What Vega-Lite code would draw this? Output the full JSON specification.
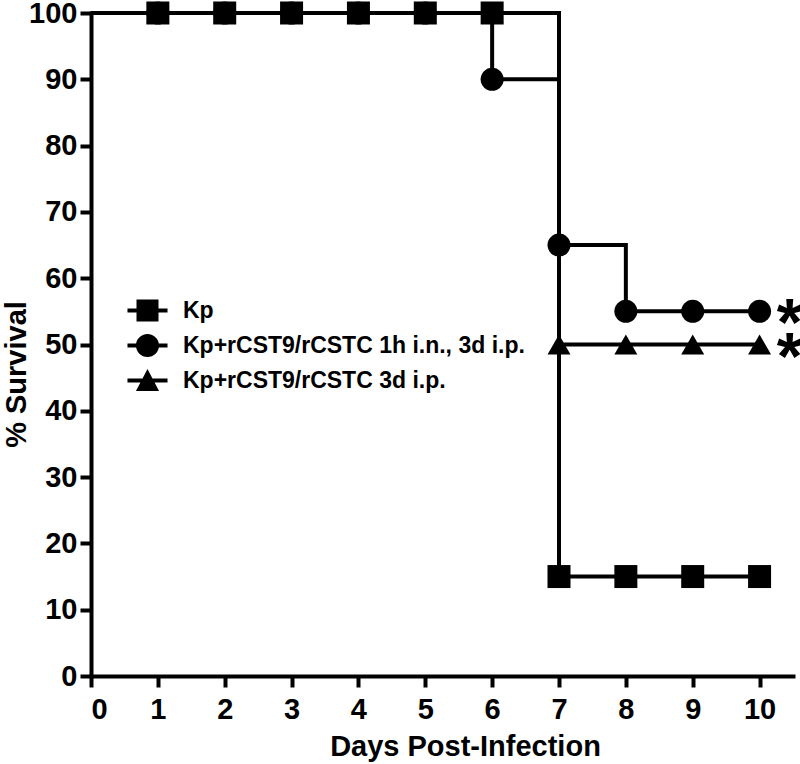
{
  "$schema": "https://vega.github.io/schema/vega-lite/v6.json",
  "autosize": {"type": "none"},
  "width": 702,
  "height": 663,
  "padding": {"left": 91, "top": 13, "right": 7, "bottom": 88},
  "background": "white",
  "config": {
    "view": {"stroke": null},
    "font": "Liberation Sans",
    "axis": {
      "domainColor": "black", "domainWidth": 4, "domainCap": "square",
      "tickColor": "black", "tickWidth": 4, "tickSize": 11,
      "labelFont": "Liberation Sans", "labelFontWeight": "bold", "labelFontSize": 29, "labelColor": "black",
      "titleFont": "Liberation Sans", "titleFontWeight": "bold", "titleFontSize": 29, "titleColor": "black",
      "grid": false
    }
  },
  "datasets": {
    "curve": [
      {"group": "Kp", "day": 0, "survival": 100},
      {"group": "Kp", "day": 7, "survival": 15},
      {"group": "Kp", "day": 10, "survival": 15},
      {"group": "Kp+rCST9/rCSTC 1h i.n., 3d i.p.", "day": 0, "survival": 100},
      {"group": "Kp+rCST9/rCSTC 1h i.n., 3d i.p.", "day": 6, "survival": 90},
      {"group": "Kp+rCST9/rCSTC 1h i.n., 3d i.p.", "day": 7, "survival": 65},
      {"group": "Kp+rCST9/rCSTC 1h i.n., 3d i.p.", "day": 8, "survival": 55},
      {"group": "Kp+rCST9/rCSTC 1h i.n., 3d i.p.", "day": 10, "survival": 55},
      {"group": "Kp+rCST9/rCSTC 3d i.p.", "day": 0, "survival": 100},
      {"group": "Kp+rCST9/rCSTC 3d i.p.", "day": 7, "survival": 50},
      {"group": "Kp+rCST9/rCSTC 3d i.p.", "day": 10, "survival": 50}
    ],
    "pts": [
      {"group": "Kp+rCST9/rCSTC 3d i.p.", "day": 1, "survival": 100},
      {"group": "Kp+rCST9/rCSTC 3d i.p.", "day": 2, "survival": 100},
      {"group": "Kp+rCST9/rCSTC 3d i.p.", "day": 3, "survival": 100},
      {"group": "Kp+rCST9/rCSTC 3d i.p.", "day": 4, "survival": 100},
      {"group": "Kp+rCST9/rCSTC 3d i.p.", "day": 5, "survival": 100},
      {"group": "Kp+rCST9/rCSTC 3d i.p.", "day": 6, "survival": 100},
      {"group": "Kp+rCST9/rCSTC 3d i.p.", "day": 7, "survival": 50},
      {"group": "Kp+rCST9/rCSTC 3d i.p.", "day": 8, "survival": 50},
      {"group": "Kp+rCST9/rCSTC 3d i.p.", "day": 9, "survival": 50},
      {"group": "Kp+rCST9/rCSTC 3d i.p.", "day": 10, "survival": 50},
      {"group": "Kp+rCST9/rCSTC 1h i.n., 3d i.p.", "day": 1, "survival": 100},
      {"group": "Kp+rCST9/rCSTC 1h i.n., 3d i.p.", "day": 2, "survival": 100},
      {"group": "Kp+rCST9/rCSTC 1h i.n., 3d i.p.", "day": 3, "survival": 100},
      {"group": "Kp+rCST9/rCSTC 1h i.n., 3d i.p.", "day": 4, "survival": 100},
      {"group": "Kp+rCST9/rCSTC 1h i.n., 3d i.p.", "day": 5, "survival": 100},
      {"group": "Kp+rCST9/rCSTC 1h i.n., 3d i.p.", "day": 6, "survival": 90},
      {"group": "Kp+rCST9/rCSTC 1h i.n., 3d i.p.", "day": 7, "survival": 65},
      {"group": "Kp+rCST9/rCSTC 1h i.n., 3d i.p.", "day": 8, "survival": 55},
      {"group": "Kp+rCST9/rCSTC 1h i.n., 3d i.p.", "day": 9, "survival": 55},
      {"group": "Kp+rCST9/rCSTC 1h i.n., 3d i.p.", "day": 10, "survival": 55},
      {"group": "Kp", "day": 1, "survival": 100},
      {"group": "Kp", "day": 2, "survival": 100},
      {"group": "Kp", "day": 3, "survival": 100},
      {"group": "Kp", "day": 4, "survival": 100},
      {"group": "Kp", "day": 5, "survival": 100},
      {"group": "Kp", "day": 6, "survival": 100},
      {"group": "Kp", "day": 7, "survival": 15},
      {"group": "Kp", "day": 8, "survival": 15},
      {"group": "Kp", "day": 9, "survival": 15},
      {"group": "Kp", "day": 10, "survival": 15}
    ],
    "stars": [
      {"day": 10, "survival": 55, "label": "*"},
      {"day": 10, "survival": 50, "label": "*"}
    ]
  },
  "layer": [
    {
      "data": {"name": "curve"},
      "mark": {"type": "line", "interpolate": "step-after", "color": "black", "strokeWidth": 4},
      "encoding": {
        "x": {"field": "day", "type": "quantitative", "scale": {"domain": [0, 10.5], "nice": false},
              "axis": {"values": [0,1,2,3,4,5,6,7,8,9,10], "format": "d", "title": "Days Post-Infection", "labelPadding": 8,
                       "titleX": 374, "titleY": 79, "titleBaseline": "alphabetic", "titleAlign": "center"}},
        "y": {"field": "survival", "type": "quantitative", "scale": {"domain": [0, 100], "nice": false},
              "axis": {"values": [0,10,20,30,40,50,60,70,80,90,100], "format": "d", "title": "% Survival", "labelPadding": 3,
                       "titleX": -66, "titleY": 361, "titleBaseline": "alphabetic", "titleAlign": "center", "titleAngle": 270}},
        "detail": {"field": "group"}
      }
    },
    {
      "data": {"name": "pts"},
      "mark": {"type": "point", "filled": true, "color": "black", "opacity": 1, "size": 529},
      "encoding": {
        "x": {"field": "day", "type": "quantitative"},
        "y": {"field": "survival", "type": "quantitative"},
        "shape": {"field": "group", "type": "nominal",
                  "scale": {"domain": ["Kp", "Kp+rCST9/rCSTC 1h i.n., 3d i.p.", "Kp+rCST9/rCSTC 3d i.p."],
                            "range": ["square", "circle", "triangle-up"]},
                  "legend": null}
      }
    },
    {
      "data": {"name": "pts"},
      "mark": {"type": "point", "filled": true, "color": "black", "opacity": 0, "size": 484},
      "encoding": {
        "x": {"field": "day", "type": "quantitative"},
        "y": {"field": "survival", "type": "quantitative"},
        "shape": {"field": "group", "type": "nominal",
                  "scale": {"domain": ["Kp", "Kp+rCST9/rCSTC 1h i.n., 3d i.p.", "Kp+rCST9/rCSTC 3d i.p."],
                            "range": [
                              "M-1.82,-0.18 L-1.82,0.18 L-1,0.18 L-1,1 L1,1 L1,0.18 L1.82,0.18 L1.82,-0.18 L1,-0.18 L1,-1 L-1,-1 L-1,-0.18 Z",
                              "M-1.05,0 A1.05,1.05 0 1,0 1.05,0 A1.05,1.05 0 1,0 -1.05,0 Z M-1.82,-0.18 L-1.82,0.18 L-0.9,0.18 L-0.9,-0.18 Z M0.9,-0.18 L0.9,0.18 L1.82,0.18 L1.82,-0.18 Z",
                              "M0,-1.05 L-1.05,0.95 L1.05,0.95 Z M-1.82,-0.18 L-1.82,0.18 L-0.4,0.18 L-0.4,-0.18 Z M0.4,-0.18 L0.4,0.18 L1.82,0.18 L1.82,-0.18 Z"
                            ]},
                  "legend": {
                    "title": null, "orient": "none", "legendX": 45, "legendY": 286,
                    "symbolSize": 484, "symbolOpacity": 1, "symbolFillColor": "black", "symbolStrokeColor": "black", "symbolStrokeWidth": 0,
                    "labelFont": "Liberation Sans", "labelFontWeight": "bold", "labelFontSize": 23, "labelColor": "black",
                    "labelOffset": 24, "rowPadding": 10, "padding": 0, "labelLimit": 600
                  }}
      }
    },
    {
      "data": {"name": "stars"},
      "mark": {"type": "text", "color": "black", "fontSize": 66, "font": "Liberation Sans", "fontWeight": "bold", "align": "center", "baseline": "alphabetic", "dx": 30, "dy": 34},
      "encoding": {
        "x": {"field": "day", "type": "quantitative"},
        "y": {"field": "survival", "type": "quantitative"},
        "text": {"field": "label"}
      }
    }
  ],
  "resolve": {"scale": {"shape": "independent"}, "legend": {"shape": "independent"}}
}
